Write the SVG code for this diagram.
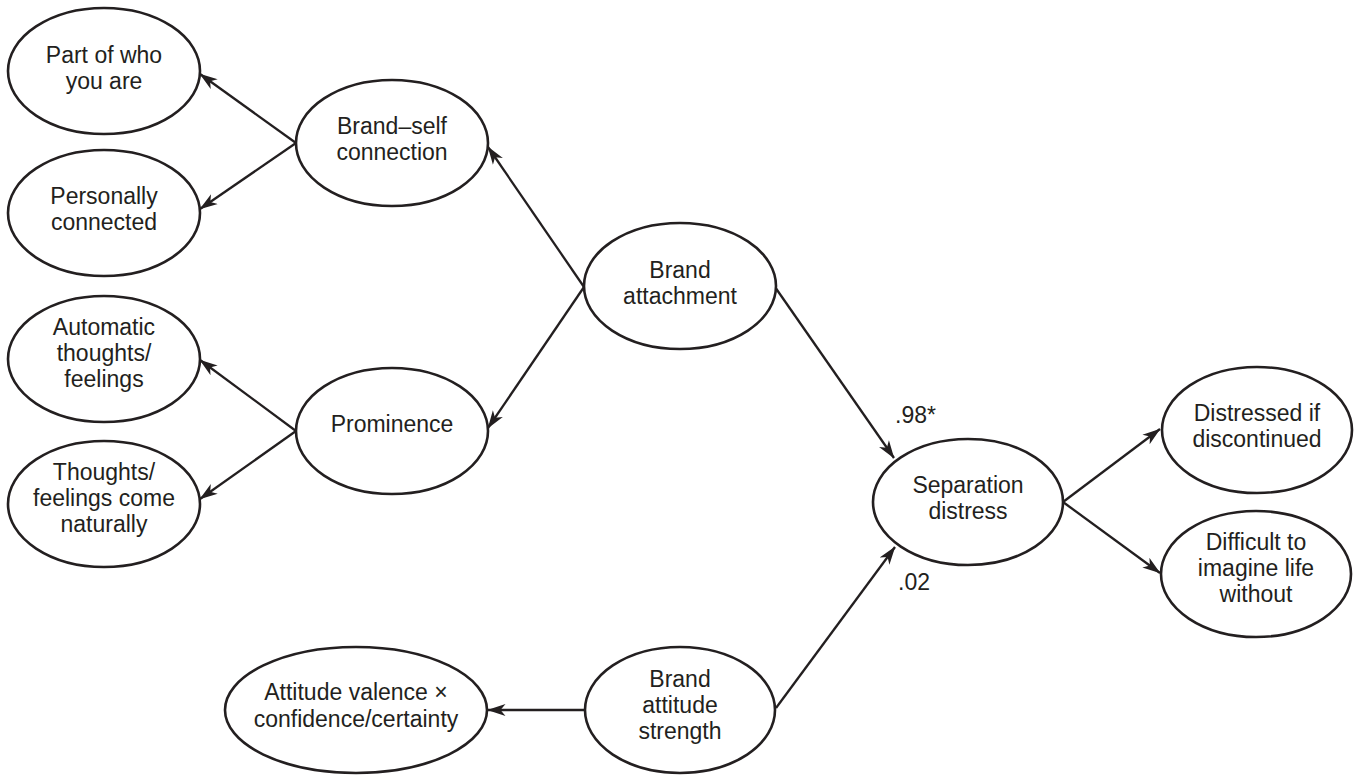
<svg xmlns="http://www.w3.org/2000/svg" width="1357" height="777" viewBox="0 0 1357 777">
<style>
.n ellipse{fill:#fff;stroke:#231f20;stroke-width:2.6}
.n text{font-family:"Liberation Sans",Arial,sans-serif;font-size:23px;fill:#231f20;text-anchor:middle}
.lbl{font-family:"Liberation Sans",Arial,sans-serif;font-size:23px;fill:#231f20}
.c line{stroke:#231f20;stroke-width:2.3;marker-end:url(#ah)}
</style>
<defs>
<marker id="ah" markerUnits="userSpaceOnUse" viewBox="0 0 18 13" refX="17.5" refY="6.5" markerWidth="18" markerHeight="13" orient="auto">
<path d="M0,0.5 L18,6.5 L0,12.5 L5,6.5 Z" fill="#231f20"/>
</marker>
</defs>
<rect width="1357" height="777" fill="#fff"/>
<g id="connectors" class="c">
<line x1="296" y1="143" x2="200" y2="74"/>
<line x1="296" y1="143" x2="200" y2="209"/>
<line x1="296" y1="431" x2="200" y2="360"/>
<line x1="296" y1="431" x2="200" y2="499"/>
<line x1="584" y1="287" x2="488" y2="147"/>
<line x1="584" y1="287" x2="488" y2="428"/>
<line x1="775" y1="287" x2="894" y2="458"/>
<line x1="776" y1="708" x2="895" y2="547"/>
<line x1="1063" y1="502" x2="1160" y2="429"/>
<line x1="1063" y1="502" x2="1160" y2="573"/>
<line x1="585" y1="710" x2="488" y2="710"/>
</g>
<g id="part-of-who" class="n"><ellipse cx="104" cy="71" rx="96" ry="63"/><text x="104" y="63">Part of who</text><text x="104" y="89">you are</text></g>
<g id="personally-connected" class="n"><ellipse cx="104" cy="213" rx="96" ry="63"/><text x="104" y="204">Personally</text><text x="104" y="230">connected</text></g>
<g id="automatic" class="n"><ellipse cx="104" cy="359" rx="96" ry="63"/><text x="104" y="335">Automatic</text><text x="104" y="361">thoughts/</text><text x="104" y="387">feelings</text></g>
<g id="thoughts-naturally" class="n"><ellipse cx="104" cy="504" rx="96" ry="63"/><text x="104" y="480">Thoughts/</text><text x="104" y="506">feelings come</text><text x="104" y="532">naturally</text></g>
<g id="brand-self" class="n"><ellipse cx="392" cy="143" rx="96" ry="63"/><text x="392" y="134">Brand–self</text><text x="392" y="160">connection</text></g>
<g id="prominence" class="n"><ellipse cx="392" cy="431" rx="96" ry="63"/><text x="392" y="432">Prominence</text></g>
<g id="brand-attachment" class="n"><ellipse cx="680" cy="286" rx="96" ry="63"/><text x="680" y="278">Brand</text><text x="680" y="304">attachment</text></g>
<g id="separation-distress" class="n"><ellipse cx="968" cy="502" rx="95" ry="63"/><text x="968" y="493">Separation</text><text x="968" y="519">distress</text></g>
<g id="distressed" class="n"><ellipse cx="1257" cy="430" rx="95" ry="63"/><text x="1257" y="421">Distressed if</text><text x="1257" y="447">discontinued</text></g>
<g id="difficult" class="n"><ellipse cx="1256" cy="574" rx="95" ry="63"/><text x="1256" y="550">Difficult to</text><text x="1256" y="576">imagine life</text><text x="1256" y="602">without</text></g>
<g id="attitude-valence" class="n"><ellipse cx="356" cy="710" rx="131" ry="63"/><text x="356" y="700">Attitude valence ×</text><text x="356" y="727">confidence/certainty</text></g>
<g id="brand-attitude" class="n"><ellipse cx="680" cy="710" rx="95" ry="63"/><text x="680" y="687">Brand</text><text x="680" y="713">attitude</text><text x="680" y="739">strength</text></g>
<g id="labels">
<text class="lbl" x="895" y="423">.98*</text>
<text class="lbl" x="898" y="590">.02</text>
</g>
</svg>
